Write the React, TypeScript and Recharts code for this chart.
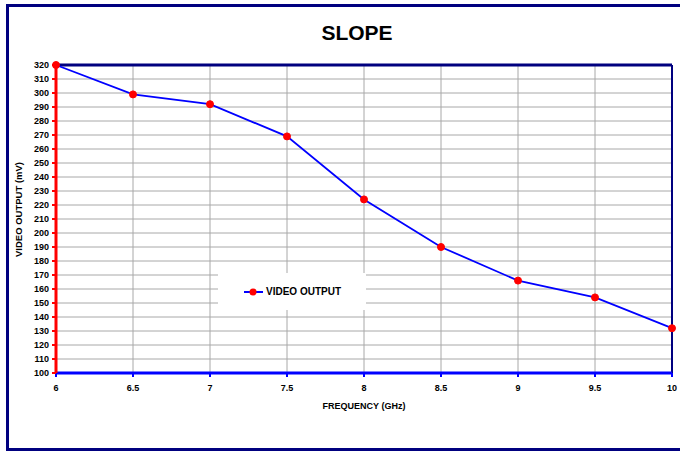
import React from "react";
import { LineChart, Line, XAxis, YAxis, CartesianGrid, ReferenceLine } from "recharts";

const frequencies = [6, 6.5, 7, 7.5, 8, 8.5, 9, 9.5, 10];
const videoOutput = [320, 299, 292, 269, 224, 190, 166, 154, 132];
const xTicks = [6, 6.5, 7, 7.5, 8, 8.5, 9, 9.5, 10];
const yTicks = [100, 110, 120, 130, 140, 150, 160, 170, 180, 190, 200, 210, 220, 230, 240, 250, 260, 270, 280, 290, 300, 310, 320];
const seriesName = "VIDEO OUTPUT";

const data = frequencies.map((f, i) => ({ f, v: videoOutput[i] }));

const FONT = '"Liberation Sans", Arial, sans-serif';

export default function App() {
  return (
    <div style={{ position: "absolute", left: 0, top: 0, width: 680, height: 452, background: "#fff", overflow: "hidden" }}>
      <div
        style={{
          position: "absolute",
          left: 6,
          top: 4,
          width: 700,
          height: 447,
          boxSizing: "border-box",
          border: "3px solid #00007f",
        }}
      />
      <div
        style={{
          position: "absolute",
          left: 0,
          width: 714,
          top: 21,
          textAlign: "center",
          fontFamily: FONT,
          fontWeight: "bold",
          fontSize: 21,
          color: "#000",
        }}
      >
        SLOPE
      </div>
      <div
        style={{
          position: "absolute",
          left: 364 - 100,
          width: 200,
          top: 401,
          textAlign: "center",
          fontFamily: FONT,
          fontWeight: "bold",
          fontSize: 9,
          color: "#000",
        }}
      >
        FREQUENCY (GHz)
      </div>
      <div
        style={{
          position: "absolute",
          left: 18 - 100,
          width: 200,
          top: 210 - 6,
          textAlign: "center",
          fontFamily: FONT,
          fontWeight: "bold",
          fontSize: 9.5,
          color: "#000",
          transform: "rotate(-90deg)",
        }}
      >
        VIDEO OUTPUT (mV)
      </div>
      <div style={{ position: "absolute", left: 0, top: 0 }}>
        <LineChart width={680} height={452} data={data} margin={{ top: 65, right: 8, bottom: 49, left: 6 }}>
          <CartesianGrid stroke="#a8a8a8" strokeWidth={1} />
          <XAxis
            dataKey="f"
            type="number"
            domain={[6, 10]}
            ticks={xTicks}
            height={30}
            axisLine={{ stroke: "#0000ff", strokeWidth: 3 }}
            tickLine={{ stroke: "#0000ff", strokeWidth: 2 }}
            tickSize={4}
            tickMargin={8}
            tick={{ fill: "#000", fontFamily: FONT, fontWeight: "bold", fontSize: 9 }}
            interval={0}
          />
          <YAxis
            type="number"
            domain={[100, 320]}
            ticks={yTicks}
            width={50}
            axisLine={{ stroke: "#ff0000", strokeWidth: 3 }}
            tickLine={{ stroke: "#ff0000", strokeWidth: 2 }}
            tickSize={4}
            tickMargin={3}
            tick={{ fill: "#000", fontFamily: FONT, fontWeight: "bold", fontSize: 9 }}
            interval={0}
          />
          <ReferenceLine y={320} stroke="#00007f" strokeWidth={3} />
          <ReferenceLine x={10} stroke="#00007f" strokeWidth={2} />
          <Line
            dataKey="v"
            name={seriesName}
            stroke="#0000ff"
            strokeWidth={1.8}
            dot={{ r: 3.5, fill: "#ff0000", stroke: "#ff0000", strokeWidth: 1 }}
            isAnimationActive={false}
          />
        </LineChart>
      </div>
      <div
        style={{
          position: "absolute",
          left: 218,
          top: 273,
          width: 148,
          height: 37,
          background: "#ffffff",
          display: "flex",
          alignItems: "center",
          fontFamily: FONT,
          fontWeight: "bold",
          fontSize: 10,
          color: "#000",
        }}
      >
        <svg width={48} height={10} style={{ display: "block" }}>
          <line x1={26} y1={5} x2={45} y2={5} stroke="#0000ff" strokeWidth={2} />
          <circle cx={35} cy={5} r={3.5} fill="#ff0000" />
        </svg>
        <span>{seriesName}</span>
      </div>
    </div>
  );
}
